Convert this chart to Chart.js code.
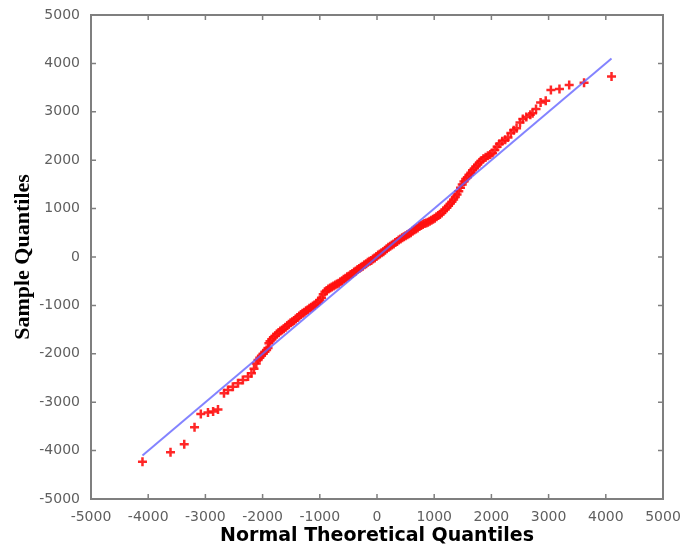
<!DOCTYPE html>
<html>
<head>
<meta charset="utf-8">
<script src="https://cdn.jsdelivr.net/npm/chart.js@4"></script>
<style>
html,body{margin:0;padding:0;background:#fff;}
canvas{display:block;}
</style>
</head>
<body>
<canvas id="c" width="684" height="548"></canvas>
<script>
const tickValues = [-5000,-4000,-3000,-2000,-1000,0,1000,2000,3000,4000,5000];
const tickLabels = ["-5000","-4000","-3000","-2000","-1000","0","1000","2000","3000","4000","5000"];
const xTitle = "Normal Theoretical Quantiles";
const yTitle = "Sample Quantiles";

const refLineX = [-4100, 4100];
const refLineY = [-4100, 4100];

const sampleX = [
-4100,-3610,-3370,-3190,-3080,-2955,-2865,-2780,-2675,-2605,-2520,-2430,-2345,-2255,-2195,-2150,-2110,-2080,-2050,-2020,
-1990,-1960,-1930,-1905,-1890,-1870,-1840,-1810,-1780,-1750,-1720,-1690,-1660,-1630,-1600,-1570,-1540,-1510,-1480,-1450,
-1420,-1390,-1360,-1330,-1300,-1270,-1240,-1210,-1180,-1150,-1120,-1090,-1060,-1030,-1000,-970,-940,-910,-880,-850,
-820,-790,-760,-730,-700,-670,-640,-610,-580,-550,-520,-490,-460,-430,-400,-370,-340,-310,-280,-250,
-220,-190,-160,-130,-100,-70,-40,-10,20,50,80,110,140,170,200,230,260,290,320,350,
380,410,440,470,500,530,560,590,620,650,680,710,740,770,800,830,860,890,920,950,
980,1010,1040,1070,1100,1130,1160,1190,1220,1250,1280,1310,1340,1370,1400,1430,1460,1490,1520,1550,
1580,1610,1640,1670,1700,1730,1760,1790,1820,1860,1900,1940,1980,2020,2060,2100,2140,2190,2240,2290,
2340,2390,2440,2500,2550,2610,2680,2720,2780,2860,2950,3040,3190,3360,3620,4100
];
const sampleY = [
-4230,-4035,-3870,-3520,-3245,-3215,-3190,-3150,-2815,-2750,-2680,-2610,-2540,-2470,-2400,-2310,-2200,-2130,-2080,-2040,
-2000,-1960,-1920,-1880,-1780,-1740,-1700,-1660,-1630,-1590,-1560,-1530,-1510,-1480,-1450,-1420,-1390,-1360,-1340,-1310,
-1280,-1250,-1220,-1190,-1160,-1140,-1110,-1090,-1060,-1040,-1010,-990,-960,-930,-890,-840,-770,-720,-690,-660,
-640,-620,-600,-580,-560,-540,-510,-490,-460,-440,-410,-390,-360,-340,-310,-290,-260,-240,-210,-190,
-160,-140,-110,-90,-70,-40,-20,10,40,60,90,110,140,170,200,220,250,270,300,320,
350,370,400,420,440,460,480,500,530,560,580,600,630,650,670,690,700,720,740,760,
780,800,830,860,880,910,950,980,1020,1060,1100,1140,1190,1240,1290,1360,1430,1500,1560,1610,
1650,1700,1740,1790,1830,1870,1910,1950,1990,2030,2060,2090,2120,2150,2210,2280,2340,2390,2420,2470,
2560,2620,2660,2780,2850,2890,2940,2970,3060,3190,3230,3450,3470,3555,3600,3730
];

const samplePts = sampleX.map((x,i)=>({x:x, y:sampleY[i]}));
const linePts = refLineX.map((x,i)=>({x:x, y:refLineY[i]}));

const framePlugin = {
  id: 'frame',
  afterDatasetsDraw(chart) {
    const {ctx, chartArea:a, scales} = chart;
    ctx.save();
    ctx.strokeStyle = '#7f7f7f';
    ctx.lineWidth = 2;
    ctx.strokeRect(a.left, a.top, a.right - a.left, a.bottom - a.top);
    ctx.lineWidth = 1.5;
    const L = 5;
    ctx.beginPath();
    tickValues.forEach(v => {
      const px = scales.x.getPixelForValue(v);
      const py = scales.y.getPixelForValue(v);
      if (px > a.left + 2 && px < a.right - 2) {
        ctx.moveTo(px, a.bottom); ctx.lineTo(px, a.bottom - L);
        ctx.moveTo(px, a.top); ctx.lineTo(px, a.top + L);
      }
      if (py > a.top + 2 && py < a.bottom - 2) {
        ctx.moveTo(a.left, py); ctx.lineTo(a.left + L, py);
        ctx.moveTo(a.right, py); ctx.lineTo(a.right - L, py);
      }
    });
    ctx.stroke();
    ctx.restore();
  }
};

const tickFont = {family: 'DejaVu Sans', size: 14};
new Chart(document.getElementById('c'), {
  type: 'scatter',
  data: {
    datasets: [
      {
        label: 'line',
        data: linePts,
        showLine: true,
        borderColor: 'rgba(100,100,255,0.8)',
        borderWidth: 2,
        pointRadius: 0,
        order: 0
      },
      {
        label: 'samples',
        data: samplePts,
        pointStyle: 'cross',
        pointRadius: 4.5,
        borderWidth: 2.5,
        borderColor: 'rgba(255,15,15,0.9)',
        backgroundColor: 'rgba(255,15,15,0.9)',
        order: 1
      }
    ]
  },
  options: {
    responsive: false,
    animation: false,
    layout: {autoPadding: false, padding: {top: 15, right: 21, left: 0, bottom: 0}},
    plugins: {legend: {display: false}, tooltip: {enabled: false}},
    scales: {
      x: {
        type: 'linear', min: -5000, max: 5000,
        afterBuildTicks: s => { s.ticks = tickValues.map(v => ({value: v})); },
        afterFit: s => { s.height = 49; s.paddingLeft = 0; s.paddingRight = 0; },
        grid: {display: false, drawTicks: false},
        border: {display: false},
        ticks: {padding: 10, color: '#5f5f5f', font: tickFont, maxRotation: 0, autoSkip: false,
          callback: (v) => tickLabels[tickValues.indexOf(v)]},
        title: {display: true, text: xTitle, color: '#000',
          font: {family: 'DejaVu Sans', size: 19, weight: 'bold'}, padding: {top: 0, bottom: 1}}
      },
      y: {
        type: 'linear', min: -5000, max: 5000,
        afterBuildTicks: s => { s.ticks = tickValues.map(v => ({value: v})); },
        afterFit: s => { s.width = 91; s.paddingTop = 0; s.paddingBottom = 0; },
        grid: {display: false, drawTicks: false},
        border: {display: false},
        ticks: {padding: 11, color: '#5f5f5f', font: tickFont, autoSkip: false,
          callback: (v) => tickLabels[tickValues.indexOf(v)]},
        title: {display: true, text: yTitle, color: '#000',
          font: {family: 'Liberation Serif', size: 22, weight: 'bold'}, padding: {top: 10, bottom: 0}}
      }
    }
  },
  plugins: [framePlugin]
});
</script>
</body>
</html>
